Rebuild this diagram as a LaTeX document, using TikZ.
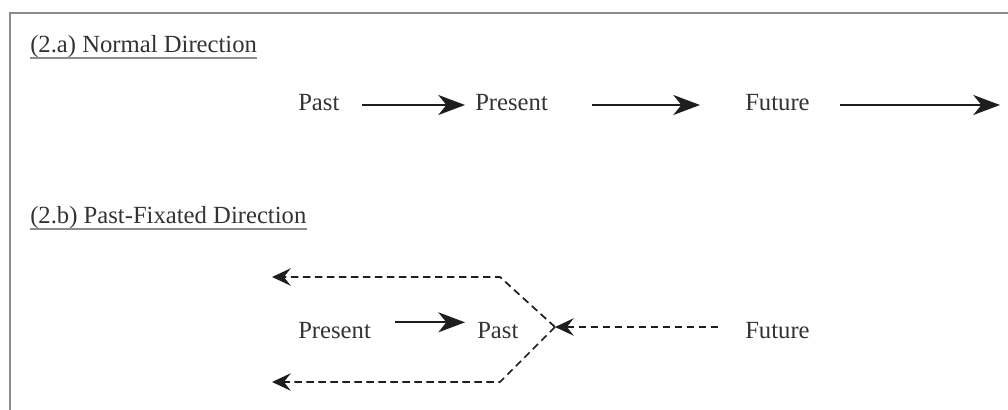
\documentclass[tikz,border=0pt]{standalone}
\usepackage{fontspec}
\setmainfont{Liberation Serif}
\usetikzlibrary{arrows.meta}
\definecolor{frameGray}{HTML}{8c8c8c}
\definecolor{wordGray}{HTML}{333333}
\definecolor{arrowDark}{HTML}{1e1e1e}
\begin{document}
\begin{tikzpicture}[x=0.75pt, y=-0.75pt,
        word/.style={text=wordGray, anchor=west, inner sep=0pt, text height=12pt, text depth=4pt,
            font=\fontsize{18.5}{22}\selectfont},
        forward/.style={draw=arrowDark, line width=1.4pt, -{Stealth[length=20pt, width=15pt, inset=6pt]}},
        backward/.style={draw=arrowDark, line width=1.3pt, dash pattern=on 5.5pt off 3.5pt,
            -{Stealth[length=14pt, width=13pt, inset=5pt]}}]
    \useasboundingbox (0,0) rectangle (1008,410);
    % frame, cut at right and bottom
    \draw[frameGray, line width=1.5pt] (10,410) -- (10,13) -- (1008,13);

    % (2.a)
    \node[word] (titleA) at (30,47) {(2.a) Normal Direction};
    \draw[frameGray, line width=0.9pt] (titleA.south west) -- (titleA.south east);
    \node[word] (pastA) at (298,105) {Past};
    \node[word] (presentA) at (475,105) {Present};
    \node[word] (futureA) at (745,105) {Future};
    \coordinate (futureEnd) at (1000,105);
    \draw[forward, shorten <=16.5pt, shorten >=7.5pt] (pastA.east) -- (presentA.west);
    \draw[forward, shorten <=33pt, shorten >=33.75pt] (presentA.east) -- (futureA.west);
    \draw[forward, shorten <=22.5pt] (futureA.east) -- (futureEnd);

    % (2.b)
    \node[word] (titleB) at (30,218) {(2.b) Past-Fixated Direction};
    \draw[frameGray, line width=0.9pt] (titleB.south west) -- (titleB.south east);
    \node[word] (presentB) at (298,333) {Present};
    \node[word] (pastB) at (477,333) {Past};
    \node[word] (futureB) at (745,333) {Future};
    \coordinate (split) at (555,327);
    \coordinate (upperBend) at (500,277);
    \coordinate (upperEnd) at (272,277);
    \coordinate (lowerBend) at (500,382);
    \coordinate (lowerEnd) at (272,382);
    \draw[forward, shorten <=18pt, shorten >=9pt] ([yshift=8pt]presentB.east) -- ([yshift=8pt]pastB.west);
    \draw[backward, shorten <=20pt] ([yshift=4.5pt]futureB.west) -- (split);
    \draw[backward] (split) -- (upperBend) -- (upperEnd);
    \draw[backward] (split) -- (lowerBend) -- (lowerEnd);
\end{tikzpicture}
\end{document}
